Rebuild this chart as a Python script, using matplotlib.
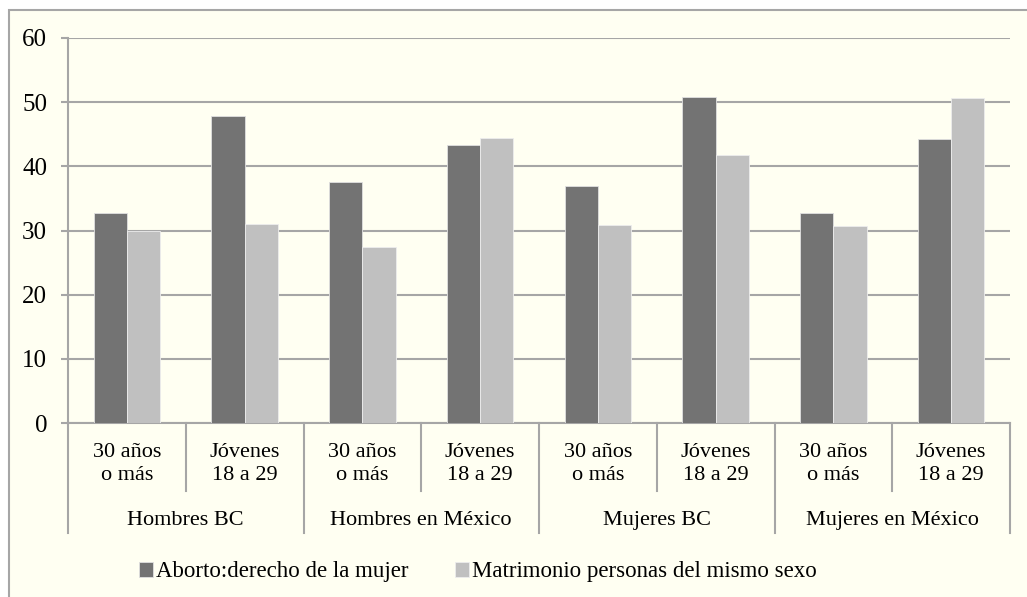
import numpy as np
import matplotlib
matplotlib.use("Agg")
from matplotlib import pyplot as plt
from matplotlib.patches import Rectangle

plt.rcParams['font.family'] = ['Liberation Serif', 'DejaVu Serif']

# datos
grupos = ['Hombres BC', 'Hombres en México', 'Mujeres BC', 'Mujeres en México']
edades = ['30 años\no más', 'Jóvenes\n18 a 29']
aborto = [32.7, 47.8, 37.6, 43.3, 36.9, 50.8, 32.7, 44.2]
matrimonio = [30.0, 31.0, 27.5, 44.4, 30.8, 41.8, 30.7, 50.7]
series = ['Aborto:derecho de la mujer', 'Matrimonio personas del mismo sexo']
colores = ['#737373', '#C0C0C0']

W, H = 1027, 597
fig = plt.figure(figsize=(W / 100, H / 100), dpi=100)
fig.patch.set_facecolor('white')

# marco del grafico
fig.patches.append(Rectangle((9 / W, -0.05), 1.2, 1.05 - 10 / H, transform=fig.transFigure,
                             facecolor='#FFFFF2', edgecolor='#A6A6A6', lw=1.5, zorder=-10))

ax = fig.add_axes([68 / W, (H - 423) / H, 942 / W, 385 / H])
ax.set_zorder(1)
ax.set_facecolor('none')

n = len(aborto)
x = np.arange(n)
ancho = 0.283
ax.bar(x - ancho / 2, aborto, ancho, color=colores[0], edgecolor='#E0E0E0', lw=0.6,
       label=series[0], zorder=3)
ax.bar(x + ancho / 2, matrimonio, ancho, color=colores[1], edgecolor='#EDEDED', lw=0.6,
       label=series[1], zorder=3)

ax.set_xlim(-0.5, n - 0.5)
ax.set_ylim(0, 60)
ax.set_yticks(range(0, 61, 10))
ax.yaxis.grid(True, color='#A6A6A6', lw=1.5, zorder=0)
ax.set_axisbelow(True)
ax.set_xticks([])
ax.tick_params(axis='y', length=5, width=1.5, color='#A6A6A6', labelsize=18, pad=10)
for s in ['top', 'right']:
    ax.spines[s].set_visible(False)
for s in ['left', 'bottom']:
    ax.spines[s].set_color('#A6A6A6')
    ax.spines[s].set_linewidth(1.5)

# eje de categorias en dos niveles
tr = ax.get_xaxis_transform()
for k in range(n + 1):
    xb = k - 0.5
    fondo = -0.286 if k % 2 == 0 else -0.177
    ax.plot([xb, xb], [0, fondo], transform=tr, color='#A6A6A6', lw=1.5, clip_on=False)
for i in range(n):
    ax.text(i, -0.107, edades[i % 2], transform=tr, ha='center', va='center',
            fontsize=16, linespacing=1.25)
for j, g in enumerate(grupos):
    ax.text(2 * j + 0.5, -0.252, g, transform=tr, ha='center', va='center', fontsize=16)

fig.legend(loc='center', bbox_to_anchor=(478 / W, 1 - 572 / H), ncol=2, frameon=False,
           fontsize=16.5, handlelength=0.6, handleheight=0.6, handletextpad=0.15,
           columnspacing=2.0, borderaxespad=0)

fig.savefig('out.png', dpi=100)
